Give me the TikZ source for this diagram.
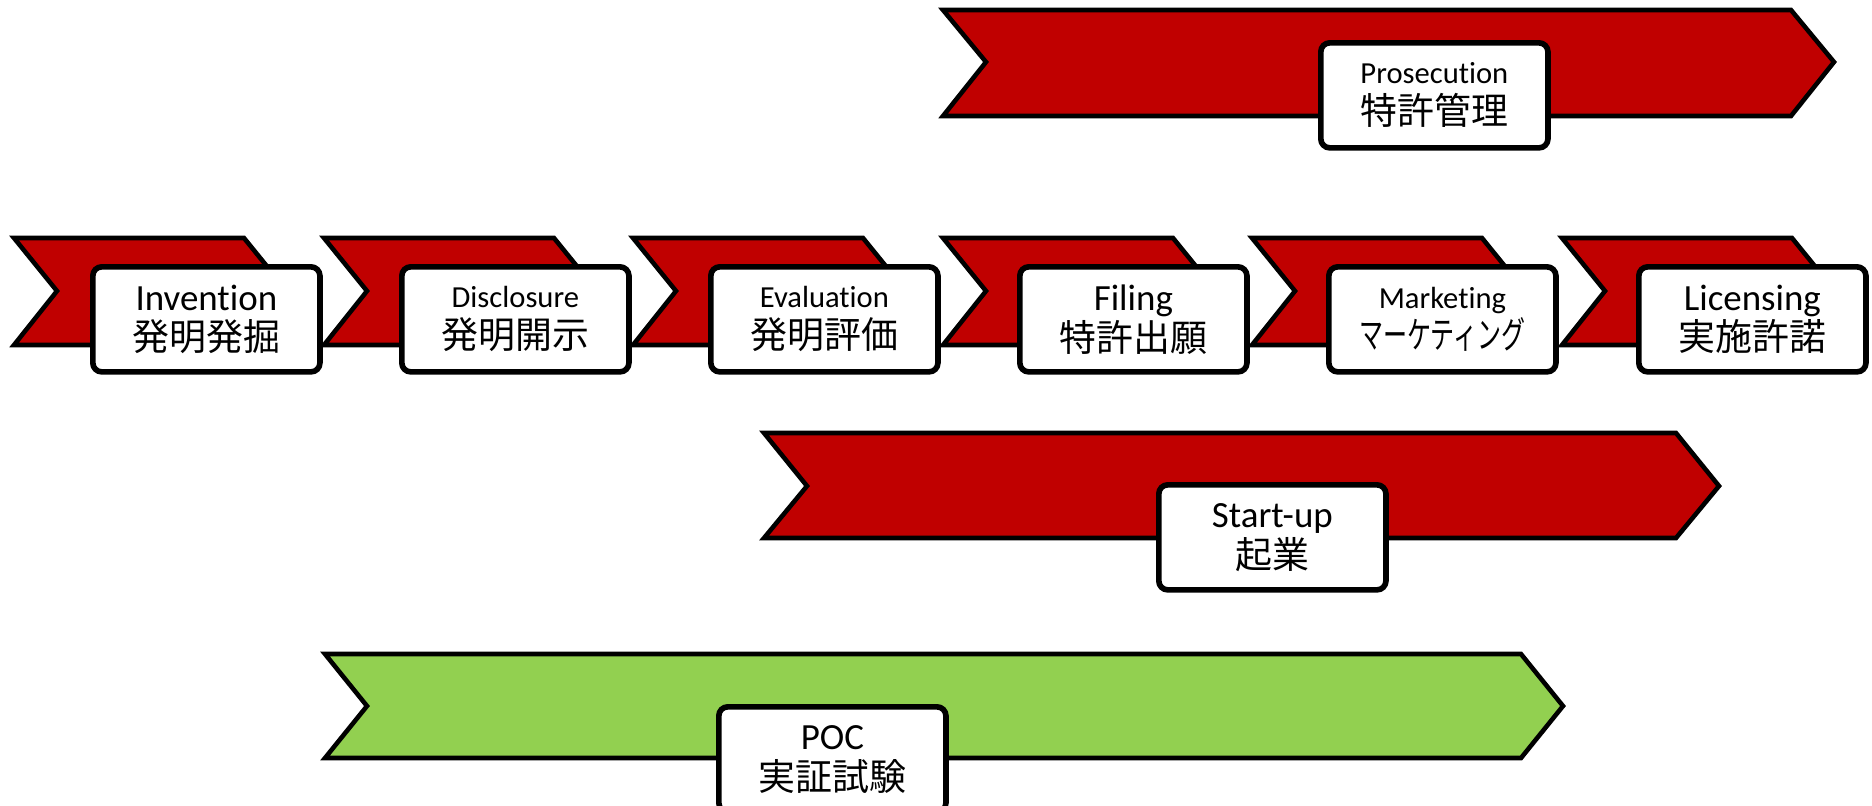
\documentclass[tikz,border=0pt]{standalone}
\usepackage{fontspec}
\usepackage{graphicx}
\setmainfont[Ligatures={NoCommon,NoContextual,NoRare},Contextuals=NoAlternate,RawFeature=-liga]{Carlito}
\newfontfamily\jp{Noto Sans CJK JP}
\definecolor{stagered}{HTML}{C00000}
\definecolor{pocgreen}{HTML}{92D050}
\newcommand\tagsmall{\fontsize{8.7}{11.6}\selectfont}
\begin{document}
\begin{tikzpicture}[x=0.01cm,y=-0.01cm,
  stage/.style={draw,line width=1.3pt,fill=stagered},
  tag/.style={draw,line width=1.6pt,fill=white,rounded corners=0.09cm,
    minimum width=2.27cm,minimum height=1.05cm,anchor=north west,
    align=center,inner sep=0pt,font=\fontsize{10.5}{11.6}\selectfont}]
\useasboundingbox (0,0) rectangle (1872,805);

% long bars
\path[stage] (943,10) -- (1791,10) -- (1834,62) -- (1791,116) -- (943,116) -- (986,62) -- cycle;
\path[stage] (764,433) -- (1676,433) -- (1719,486) -- (1676,538) -- (764,538) -- (807,486) -- cycle;
\path[stage,fill=pocgreen] (325,654) -- (1521,654) -- (1563,706) -- (1521,758) -- (325,758) -- (367,706) -- cycle;

% step chevrons
\path[stage] (14,238) -- (244,238) -- (287,291) -- (244,345) -- (14,345) -- (57,291) -- cycle;
\node[tag] (inv) at (90,264) {Invention\\{\jp 発明発掘}};
\path[stage] (324,238) -- (554,238) -- (597,291) -- (554,345) -- (324,345) -- (367,291) -- cycle;
\node[tag] (disc) at (399,264) {{\tagsmall Disclosure}\\{\jp 発明開示}};
\path[stage] (633,238) -- (863,238) -- (906,291) -- (863,345) -- (633,345) -- (676,291) -- cycle;
\node[tag] (eval) at (708,264) {{\tagsmall Evaluation}\\{\jp 発明評価}};
\path[stage] (943,238) -- (1173,238) -- (1216,291) -- (1173,345) -- (943,345) -- (986,291) -- cycle;
\node[tag] (fil) at (1017,264) {Filing\\{\jp 特許出願}};
\path[stage] (1252,238) -- (1482,238) -- (1525,291) -- (1482,345) -- (1252,345) -- (1295,291) -- cycle;
\node[tag] (mkt) at (1326,264) {{\tagsmall Marketing}\\{\jp\scalebox{0.65}[1]{マーケティング}}};
\path[stage] (1562,238) -- (1792,238) -- (1835,291) -- (1792,345) -- (1562,345) -- (1605,291) -- cycle;
\node[tag] (lic) at (1636,264) {Licensing\\{\jp 実施許諾}};

% labels on the long bars
\node[tag] (pros) at (1318,40) {{\tagsmall Prosecution}\\{\jp 特許管理}};
\node[tag] (start) at (1156,482) {Start-up\\{\jp 起業}};
\node[tag] (poc) at (716,704) {POC\\{\jp 実証試験}};

\end{tikzpicture}
\end{document}
